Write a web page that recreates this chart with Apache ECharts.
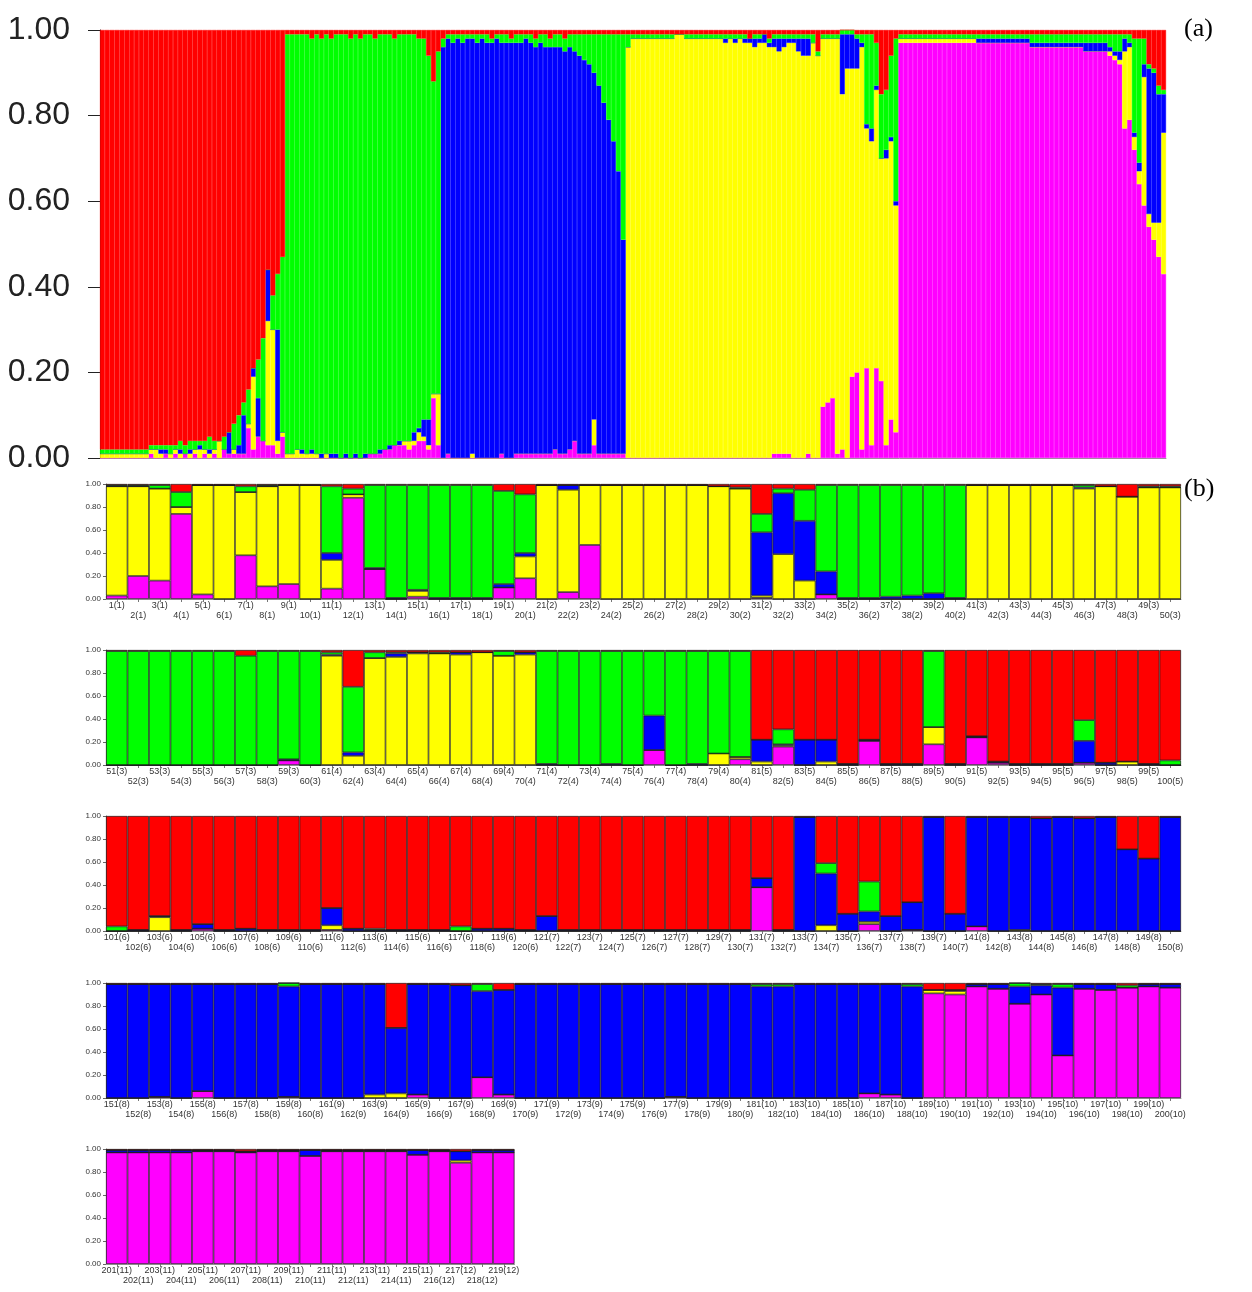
<!DOCTYPE html>
<html>
<head>
    <meta charset="utf-8">
    <title>STRUCTURE bar plot</title>
    <script src="https://cdn.jsdelivr.net/npm/echarts@6/dist/echarts.min.js"></script>
</head>
<body style="margin:0;background:#fff;">
<div id="main" style="width:1252px;height:1292px;"></div>
<script type="text/javascript">
// cluster colours, stacked from the bottom up: magenta, yellow, blue, green, red
var clusterNames = ['K5', 'K4', 'K3', 'K2', 'K1'];
var clusterColors = ['#ff00ff', '#ffff00', '#0000ff', '#00ff00', '#ff0000'];

// ---- (a) sorted membership, 219 individuals (percent) ----
var aMagenta = [
    0,0,0,0,0,0,0,0,0,0, 1,0,0,1,0,1,0,1,0,1, 0,1,0,1,0,2,1,1,1,1, 7,2,5,4,3,3,1,5,0,0,
    0,0,0,0,0,0,0,0,0,0, 0,0,0,0,0,1,1,1,2,2, 3,3,3,2,3,4,4,2,14,3, 0,1,0,0,0,0,0,0,0,0,
    0,0,1,0,0,1,1,1,1,1, 1,1,1,2,1,1,2,4,1,1, 1,3,1,1,1,1,1,1,0,0, 0,0,0,0,0,0,0,0,0,0,
    0,0,0,0,0,0,0,0,0,0, 0,0,0,0,0,0,0,0,1,1, 1,1,0,0,0,1,0,0,12,13, 14,1,2,0,19,20,2,21,3,21,
    18,3,9,6,97,97,97,97,97,97, 97,97,97,97,97,97,97,97,97,97, 97,97,97,97,97,97,97,97,97,97,
    97,96,96,96,96,96,96,96,96,96, 96,96,95,95,95,95,95,94,93,92, 77,79,72,64,59,54,51,47,43
];
var aYellow = [
    1,1,1,1,1,1,1,1,1,1, 1,2,1,0,1,1,1,0,1,1, 2,1,1,1,4,0,0,1,0,0, 1,17,0,0,29,27,3,1,1,1,
    2,1,1,1,1,0,1,0,0,0, 0,0,0,0,0,0,0,0,0,0, 0,0,1,2,1,2,1,1,1,12, 0,0,0,0,0,0,1,0,0,0,
    0,0,0,0,0,0,0,0,0,0, 0,0,0,0,0,0,0,0,0,0, 0,6,0,0,0,0,0,0,96,98, 98,98,98,98,98,98,98,98,99,99,
    98,98,98,98,98,98,98,98,97,98, 97,98,97,97,96,97,97,96,95,94, 95,96,97,95,94,93,97,94,86,85, 84,97,83,91,72,71,94,56,71,65,
    52,67,65,53,1,1,1,1,1,1, 1,1,1,1,1,1,1,1,1,1, 0,0,0,0,0,0,0,0,0,0,
    0,0,0,0,0,0,0,0,0,0, 0,0,0,0,0,0,0,1,1,1, 18,17,3,3,30,3,4,8,33
];
var aBlue = [
    0,0,0,0,0,0,0,0,0,0, 0,0,1,1,0,0,1,0,1,0, 1,0,1,0,0,0,5,0,2,9, 0,2,9,0,12,0,26,0,0,0,
    0,1,0,1,0,1,0,1,1,0, 1,0,1,0,1,0,0,1,0,1, 0,1,0,0,2,1,4,6,0,0, 96,97,97,98,97,98,97,97,98,97,
    97,98,96,97,97,96,96,97,96,95, 96,95,95,94,95,94,94,91,93,92, 91,81,86,82,78,73,66,50,0,0, 0,0,0,0,0,0,0,0,0,0,
    0,0,0,0,0,0,0,0,1,0, 1,0,1,1,2,1,2,1,2,3, 2,1,1,3,4,4,0,0,0,0, 0,0,14,8,8,7,1,1,3,1,
    0,2,1,1,0,0,0,0,0,0, 0,0,0,0,0,0,0,0,0,0, 1,1,1,1,1,1,1,1,1,1,
    1,1,1,1,1,1,1,1,1,1, 1,1,2,2,2,2,2,1,1,2, 3,1,1,2,3,34,35,30,9
];
var aGreen = [
    1,1,1,1,1,1,1,1,1,1, 1,1,1,1,2,1,2,2,2,2, 1,2,3,2,0,3,0,6,7,3, 8,0,9,24,0,8,13,41,98,98,
    97,97,98,96,98,97,98,97,98,99, 98,98,98,98,98,98,97,97,97,96, 95,95,95,95,93,91,89,85,73,80, 2,1,2,1,2,1,1,2,1,2,
    1,1,2,2,1,2,2,1,2,2, 2,3,2,3,3,3,3,4,5,6, 7,9,12,16,20,25,32,48,3,1, 1,1,1,1,1,1,1,1,0,0,
    1,1,1,1,1,1,1,1,1,1, 1,1,1,0,1,1,0,1,1,1, 1,1,1,1,1,1,2,1,1,1, 1,1,1,1,1,1,2,21,22,10,
    15,14,19,38,1,1,1,1,1,1, 1,1,1,1,1,1,1,1,1,1, 1,1,1,1,1,1,1,1,1,1,
    1,2,2,2,2,2,2,2,2,2, 2,2,2,2,2,2,2,3,4,4, 1,2,22,29,6,1,1,2,1
];
var aRed = [
    98,98,98,98,98,98,98,98,98,98, 97,97,97,97,97,97,96,97,96,96, 96,96,95,96,96,95,94,92,90,87, 84,79,77,72,56,62,57,53,1,1,
    1,1,1,2,1,2,1,2,1,1, 1,2,1,2,1,1,2,1,1,1, 2,1,1,1,1,2,2,6,12,5, 2,1,1,1,1,1,1,1,1,1,
    2,1,1,1,2,1,1,1,1,2, 1,1,2,1,1,2,1,1,1,1, 1,1,1,1,1,1,1,1,1,1, 1,1,1,1,1,1,1,1,1,1,
    1,1,1,1,1,1,1,1,1,1, 1,1,1,2,1,1,1,2,1,1, 1,1,1,1,1,1,1,5,1,1, 1,1,0,0,0,1,1,1,1,3,
    15,14,6,2,1,1,1,1,1,1, 1,1,1,1,1,1,1,1,1,1, 1,1,1,1,1,1,1,1,1,1,
    1,1,1,1,1,1,1,1,1,1, 1,1,1,1,1,1,1,1,1,1, 1,1,2,2,2,8,9,13,14
];

// ---- (b) individuals in sample order, grouped by population ----
var popSizes = [20, 20, 20, 20, 20, 20, 20, 20, 20, 20, 15, 4];
var bMagenta = [
    3,20,16,74,4,0,38,11,13,0, 9,88,26,0,2,0,0,0,10,18, 0,6,47,0,0,0,0,0,0,0, 1,0,0,4,0,0,0,0,0,0, 0,0,0,0,0,0,0,0,0,0,
    0,0,0,0,0,0,0,0,4,0, 0,0,0,0,0,0,0,0,0,0, 0,0,0,0,0,13,0,0,0,5, 0,16,0,0,0,21,0,0,18,0, 24,2,0,0,0,2,0,0,0,0,
    0,0,0,0,2,0,0,0,0,0, 1,0,0,0,0,0,0,0,0,0, 0,0,0,0,0,0,0,0,0,0, 38,0,0,0,0,6,0,1,0,0, 4,0,0,0,0,0,0,0,0,0,
    0,0,1,0,6,0,0,0,1,0, 0,0,0,0,3,0,0,18,3,0, 0,0,0,0,0,0,1,0,0,0, 0,0,0,0,0,4,3,0,91,90, 97,95,82,90,37,95,94,96,97,96,
    97,97,97,97,98,98,97,98,98,94, 98,98,98,98,95,98,88,97,97
];
var bYellow = [
    95,78,80,6,95,99,55,87,86,99, 25,3,0,0,5,0,0,0,0,19, 99,89,52,99,99,99,99,99,98,96, 2,39,16,0,0,0,0,0,0,0, 99,99,99,99,99,96,98,89,97,97,
    0,0,0,0,0,0,0,0,0,0, 95,8,93,94,97,97,96,98,95,96, 0,0,0,0,0,0,0,0,10,2, 3,1,0,3,0,0,0,0,15,0, 0,0,0,0,0,0,0,3,0,0,
    0,0,12,0,0,0,0,0,0,0, 4,0,0,0,0,0,0,0,0,0, 0,0,0,0,0,0,0,0,0,0, 0,0,0,5,0,2,0,0,0,0, 0,0,1,0,0,0,0,0,0,0,
    0,0,0,0,0,0,0,0,0,0, 0,0,3,4,0,0,0,0,0,0, 0,0,0,0,0,0,0,0,0,0, 0,0,0,0,0,0,0,0,3,3, 0,0,0,0,0,0,0,0,0,0,
    0,0,0,0,0,0,0,0,0,0, 0,0,0,0,0,0,2,0,0
];
var bBlue = [
    0,0,0,0,0,0,0,0,0,0, 6,0,1,1,1,1,1,1,3,3, 0,4,0,0,0,0,0,0,0,0, 55,53,52,20,1,1,2,3,5,1, 0,0,0,0,0,1,0,0,0,0,
    0,0,0,0,0,0,0,0,1,0, 1,3,0,3,1,0,2,0,0,2, 1,0,0,1,0,30,0,1,0,0, 19,1,22,19,1,1,1,1,0,1, 1,1,1,1,1,19,2,0,1,0,
    0,1,1,1,4,1,2,1,1,1, 15,2,1,1,1,1,0,2,2,1, 13,1,1,1,1,1,1,1,1,1, 8,1,99,45,15,9,13,24,99,15, 95,99,98,98,99,98,99,71,63,99,
    99,99,98,99,93,99,99,99,96,99, 99,99,96,57,96,99,98,75,91,99, 99,99,99,99,99,99,98,99,99,99, 97,97,99,99,99,95,96,97,0,1, 2,4,15,8,59,4,5,0,2,3,
    2,2,2,2,1,1,1,1,1,5, 1,1,1,1,4,1,8,2,2
];
var bGreen = [
    1,1,3,13,0,0,5,1,0,0, 58,5,72,98,91,98,98,98,81,51, 0,0,0,0,0,0,0,0,0,1, 16,4,27,75,98,98,97,96,94,98, 0,0,0,0,0,2,0,0,1,1,
    99,99,99,99,99,99,95,99,94,99, 2,57,5,1,0,1,0,0,4,0, 98,99,99,98,99,56,99,98,89,92, 0,13,0,0,0,0,0,0,66,0, 0,0,0,0,0,18,0,0,0,4,
    4,0,0,0,0,0,0,0,0,0, 0,0,1,0,0,0,4,0,0,0, 0,0,0,0,0,0,0,0,0,0, 0,0,0,9,0,26,0,0,0,0, 0,0,0,0,0,0,0,0,0,0,
    0,0,0,0,0,0,0,0,3,0, 0,0,0,0,0,0,0,6,0,0, 0,0,0,0,0,0,0,0,0,0, 2,2,0,0,0,0,0,2,0,0, 0,0,3,1,3,0,0,2,0,0,
    0,0,0,0,0,0,0,0,0,0, 0,0,0,0,0,0,0,0,0
];
var bRed = [
    1,1,1,7,1,1,2,1,1,1, 2,4,1,1,1,1,1,1,6,9, 1,1,1,1,1,1,1,1,2,3, 26,4,5,1,1,1,1,1,1,1, 1,1,1,1,1,1,2,11,2,2,
    1,1,1,1,1,1,5,1,1,1, 2,32,2,2,2,2,2,2,1,2, 1,1,1,1,1,1,1,1,1,1, 78,69,78,78,99,78,99,99,1,99, 75,97,99,99,99,61,98,97,99,96,
    96,99,87,99,94,99,98,99,99,99, 80,98,98,99,99,99,96,98,98,99, 87,99,99,99,99,99,99,99,99,99, 54,99,1,41,85,57,87,75,1,85, 1,1,1,2,1,2,1,29,37,1,
    1,1,1,1,1,1,1,1,0,1, 1,1,1,39,1,1,2,1,6,1, 1,1,1,1,1,1,1,1,1,1, 1,1,1,1,1,1,1,1,6,6, 1,1,0,1,1,1,1,2,1,1,
    1,1,1,1,1,1,2,1,1,1, 1,1,1,1,1,1,2,1,1
];

// labels like "12(1)" = individual(population)
var sampleLabels = [];
popSizes.forEach(function (n, p) {
    for (var k = 0; k < n; k++) {
        sampleLabels.push((sampleLabels.length + 1) + '(' + (p + 1) + ')');
    }
});
var aNames = aRed.map(function (v, i) { return 'a' + (i + 1); });

var aSeriesData = [aMagenta, aYellow, aBlue, aGreen, aRed];
var bSeriesData = [bMagenta, bYellow, bBlue, bGreen, bRed];

var fmtTick = function (v) { return (v / 100).toFixed(2); };

var grids = [{left: 100, top: 30, width: 1066, height: 428}];
var xAxes = [{
    type: 'category', gridIndex: 0, data: aNames,
    axisLine: {lineStyle: {color: '#999', width: 1}},
    axisTick: {show: false}, axisLabel: {show: false}
}];
var yAxes = [{
    type: 'value', gridIndex: 0, min: 0, max: 100, interval: 20,
    splitLine: {show: false},
    axisLine: {show: true, lineStyle: {color: '#222', width: 1}},
    axisTick: {show: true, length: 12, lineStyle: {color: '#222'}},
    axisLabel: {
        formatter: fmtTick, fontSize: 32, margin: 30, color: '#222',
        fontFamily: "'Liberation Sans Narrow', 'Liberation Sans', Arial, sans-serif"
    }
}];
var series = [];

aSeriesData.forEach(function (arr, c) {
    series.push({
        name: clusterNames[c], type: 'bar', stack: 'a', xAxisIndex: 0, yAxisIndex: 0,
        data: arr, barCategoryGap: '0%',
        itemStyle: {color: clusterColors[c], borderColor: clusterColors[c], borderWidth: 0.4}
    });
});

// (b): five strips of 50 bars each
var rowTops = [484, 650, 816, 983, 1149];
var rowHeight = 115;
var barStep = 21.5;
rowTops.forEach(function (top, r) {
    var from = r * 50;
    var to = Math.min(from + 50, sampleLabels.length);
    var gi = r + 1;
    grids.push({left: 106, top: top, width: (to - from) * barStep, height: rowHeight});
    xAxes.push({
        type: 'category', gridIndex: gi, data: sampleLabels.slice(from, to),
        axisLine: {lineStyle: {color: '#999', width: 1}},
        axisTick: {show: true, alignWithLabel: true, length: 3, lineStyle: {color: '#777'}},
        axisLabel: {
            interval: 0, fontSize: 9, lineHeight: 10, margin: 2, color: '#333',
            fontFamily: "'Liberation Sans', Arial, sans-serif",
            formatter: function (v, i) { return i % 2 ? '\n' + v : v; }
        }
    });
    yAxes.push({
        type: 'value', gridIndex: gi, min: 0, max: 100, interval: 20,
        splitLine: {show: false},
        axisLine: {show: true, lineStyle: {color: '#666', width: 1}},
        axisTick: {show: true, length: 3, lineStyle: {color: '#666'}},
        axisLabel: {
            formatter: fmtTick, fontSize: 8, margin: 5, color: '#333',
            fontFamily: "'Liberation Sans', Arial, sans-serif"
        }
    });
    bSeriesData.forEach(function (arr, c) {
        series.push({
            name: clusterNames[c], type: 'bar', stack: 'b' + r, xAxisIndex: gi, yAxisIndex: gi,
            data: arr.slice(from, to), barCategoryGap: '0%',
            itemStyle: {color: clusterColors[c], borderColor: '#1a1a1a', borderWidth: 0.7}
        });
    });
});

var myChart = echarts.init(document.getElementById('main'));
myChart.setOption({
    animation: false,
    backgroundColor: '#fff',
    title: [
        {text: '(a)', left: 1184, top: 16, padding: 0,
            textStyle: {fontFamily: "'Liberation Serif', 'Times New Roman', serif", fontSize: 26, fontWeight: 'normal', color: '#000'}},
        {text: '(b)', left: 1184, top: 476, padding: 0,
            textStyle: {fontFamily: "'Liberation Serif', 'Times New Roman', serif", fontSize: 26, fontWeight: 'normal', color: '#000'}}
    ],
    grid: grids,
    xAxis: xAxes,
    yAxis: yAxes,
    series: series
});
</script>
</body>
</html>
